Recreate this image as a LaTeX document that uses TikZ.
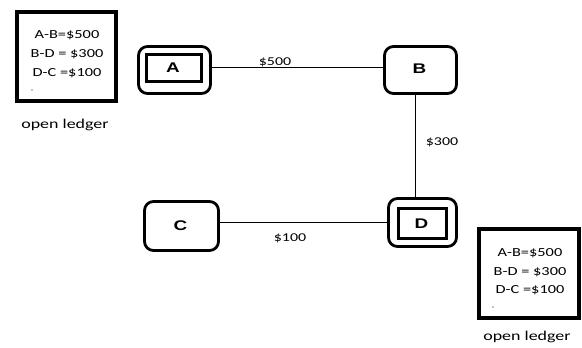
\documentclass[tikz,border=0pt]{standalone}
\usepackage{fontspec}
\setmainfont{Carlito}
\newfontfamily\letfont{Liberation Sans}
\newcommand{\sx}[1]{\scalebox{1.33}[1]{#1}}
\newcommand{\sxl}[1]{\scalebox{1.35}[1]{#1}}
\begin{document}
\begin{tikzpicture}[x=1pt,y=1pt,
  peer/.style={draw, line width=2.8pt, rounded corners=9pt, inner sep=0pt},
  innerbox/.style={draw, line width=2.8pt, inner sep=0pt},
  letter/.style={font=\letfont\bfseries\fontsize{14}{16}\selectfont, inner sep=0pt},
  ledger/.style={draw, line width=3.5pt, inner sep=0pt, minimum width=99pt, minimum height=89pt},
  ltext/.style={font=\fontsize{12.3}{14}\selectfont, inner sep=0pt},
  lcap/.style={font=\fontsize{13.5}{15}\selectfont, inner sep=0pt},
  elabel/.style={font=\fontsize{12}{14}\selectfont, inner sep=0pt},
  link/.style={draw, line width=0.8pt}]
\useasboundingbox (0,0) rectangle (582,348);
\fill[white] (0,0) rectangle (582,348);

% peers
\node[peer, minimum width=72pt, minimum height=47pt] (A) at (174.5,278) {};
\node[innerbox, minimum width=55pt, minimum height=27pt] (Ai) at (174,280) {};
\node[letter] (Al) at (173,280) {\sxl{A}};

\node[peer, minimum width=72pt, minimum height=47pt] (B) at (420.5,278) {};
\node[letter] (Bl) at (419.5,279) {\sxl{B}};

\node[peer, minimum width=74pt, minimum height=49pt] (C) at (181.5,122) {};
\node[letter] (Cl) at (180.5,122) {\sxl{C}};

\node[peer, minimum width=68pt, minimum height=48pt] (D) at (422.5,125.5) {};
\node[innerbox, minimum width=48pt, minimum height=30pt] (Di) at (422.5,124.5) {};
\node[letter] (Dl) at (421.5,124.5) {\sxl{D}};

% links
\draw[link] ([yshift=3pt]A.east) -- ([yshift=3pt]B.west);
\draw[link] ([xshift=-5pt]B.south) -- ([xshift=-7pt]D.north);
\draw[link] ([yshift=4pt]C.east) -- ([yshift=0.5pt]D.west);

\node[elabel] (l500) at (275,286) {\sx{\$500}};
\node[elabel] (l300) at (442,206) {\sx{\$300}};
\node[elabel] (l100) at (290,110) {\sx{\$100}};

% ledger 1
\node[ledger] (L1) at (66.5,291.5) {};
\node[ltext] (L1a) at (67,313) {\sx{A-B=\$500}};
\node[ltext] (L1b) at (67,294) {\sx{B-D = \$300}};
\node[ltext] (L1c) at (67,275) {\sx{D-C =\$100}};
\fill (32,258) circle (0.7pt);
\node[lcap] (L1cap) at (65,223) {\sx{open ledger}};

% ledger 2
\node[ledger, minimum width=100pt] (L2) at (529,74.5) {};
\node[ltext] (L2a) at (530,95) {\sx{A-B=\$500}};
\node[ltext] (L2b) at (530,76) {\sx{B-D = \$300}};
\node[ltext] (L2c) at (530,58) {\sx{D-C =\$100}};
\fill (493,41) circle (0.7pt);
\node[lcap] (L2cap) at (527,11) {\sx{open ledger}};
\end{tikzpicture}
\end{document}
